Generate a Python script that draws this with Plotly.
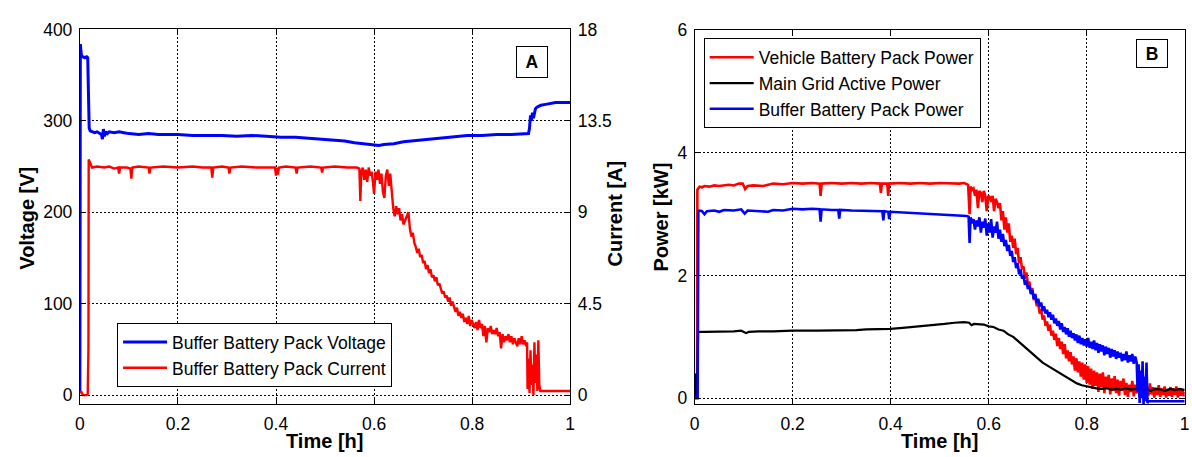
import plotly.graph_objects as go

# ---------------- Panel A data ----------------
t_volt = [0.0, 0.001, 0.003, 0.006, 0.010, 0.014, 0.016, 0.017, 0.019, 0.021, 0.025, 0.030,
          0.035, 0.040, 0.044, 0.046, 0.048, 0.050, 0.053, 0.056, 0.060, 0.070, 0.080, 0.090,
          0.100, 0.120, 0.140, 0.160, 0.180, 0.200, 0.230, 0.260, 0.290, 0.320, 0.350, 0.380,
          0.410, 0.440, 0.470, 0.500, 0.520, 0.540, 0.560, 0.580, 0.600, 0.610, 0.620, 0.640,
          0.660, 0.680, 0.700, 0.730, 0.760, 0.790, 0.820, 0.850, 0.880, 0.900, 0.915, 0.917,
          0.919, 0.921, 0.923, 0.925, 0.927, 0.929, 0.932, 0.936, 0.940, 0.950, 0.960, 0.970,
          0.985, 1.0]
voltage = [2, 384, 372, 370, 369, 370, 369, 318, 292, 289, 288, 287,
           288, 286, 285, 280, 291, 283, 288, 286, 288, 287, 288, 287,
           286, 285, 286, 285, 285, 285, 284, 284, 284, 283, 284, 283,
           282, 282, 281, 280, 279, 278, 276, 275, 274, 273, 274, 275,
           277, 278, 279, 281, 282, 284, 284, 285, 285, 286, 286, 292,
           306, 300, 309, 303, 310, 313, 315, 316, 317, 318, 319, 320,
           320, 320]

t_curr = [0.000, 0.003, 0.006, 0.010, 0.014, 0.016, 0.0165, 0.0175, 0.018, 0.020, 0.025, 0.035,
          0.050, 0.060, 0.070, 0.078, 0.080, 0.082, 0.095, 0.103, 0.105, 0.107, 0.120, 0.140,
          0.142, 0.144, 0.170, 0.200, 0.230, 0.250, 0.268, 0.270, 0.272, 0.290, 0.303, 0.305,
          0.307, 0.330, 0.360, 0.398, 0.400, 0.402, 0.404, 0.406, 0.420, 0.440, 0.442, 0.444,
          0.470, 0.492, 0.494, 0.496, 0.520, 0.545, 0.565, 0.570, 0.572, 0.574, 0.577, 0.580,
          0.583, 0.586, 0.589, 0.592, 0.595, 0.598, 0.600, 0.603, 0.606, 0.609, 0.612, 0.615,
          0.618, 0.621, 0.624, 0.627, 0.630, 0.633, 0.636, 0.639, 0.642, 0.645, 0.648, 0.651,
          0.654, 0.657, 0.660, 0.663, 0.666, 0.670, 0.673, 0.676, 0.679, 0.682, 0.685, 0.688,
          0.691, 0.694, 0.697, 0.700, 0.703, 0.706, 0.709, 0.712, 0.715, 0.718, 0.721, 0.724,
          0.727, 0.730, 0.733, 0.736, 0.739, 0.742, 0.745, 0.748, 0.751, 0.754, 0.757, 0.760,
          0.763, 0.766, 0.769, 0.772, 0.775, 0.778, 0.781, 0.784, 0.787, 0.790, 0.793, 0.796,
          0.799, 0.802, 0.805, 0.808, 0.811, 0.814, 0.817, 0.820, 0.823, 0.826, 0.829, 0.832,
          0.835, 0.838, 0.841, 0.844, 0.847, 0.850, 0.853, 0.856, 0.859, 0.862, 0.865, 0.868,
          0.871, 0.874, 0.877, 0.880, 0.883, 0.886, 0.889, 0.892, 0.895, 0.898, 0.901, 0.904,
          0.907, 0.910, 0.912, 0.913, 0.915, 0.917, 0.919, 0.921, 0.923, 0.925, 0.927, 0.929,
          0.931, 0.933, 0.935, 0.937, 0.939, 0.950, 1.000]
current = [0.15, 0.15, 0.0, 0.0, 0.0, 0.05, 2.2, 2.3, 11.6, 11.5, 11.2, 11.25,
           11.2, 11.25, 11.15, 11.2, 10.9, 11.2, 11.2, 11.15, 10.65, 11.2, 11.25, 11.2,
           10.9, 11.2, 11.25, 11.2, 11.25, 11.2, 11.2, 10.7, 11.2, 11.25, 11.2, 10.9,
           11.2, 11.25, 11.2, 11.2, 10.8, 11.2, 10.85, 11.2, 11.25, 11.2, 10.9, 11.2,
           11.25, 11.2, 10.95, 11.2, 11.25, 11.2, 11.2, 11.15, 9.55, 11.0, 11.2, 10.6,
           11.1, 10.5, 11.2, 10.8, 11.0, 10.4, 9.9, 11.0, 10.6, 11.1, 10.4, 10.9,
           10.0, 9.7, 10.8, 11.1, 10.3, 10.9, 9.8, 9.2, 8.8, 9.3, 8.9, 9.2,
           8.6, 8.9, 8.4, 8.6, 8.8, 9.0, 8.2, 7.8, 8.0, 7.5, 7.3, 7.0,
           7.2, 6.8, 6.9, 6.5, 6.6, 6.2, 6.4, 6.0, 6.2, 5.8, 5.9, 5.6,
           5.8, 5.4, 5.5, 5.3, 5.0, 5.1, 4.8, 4.9, 4.6, 4.8, 4.4, 4.6,
           4.3, 4.1, 4.3, 3.9, 4.1, 3.8, 4.0, 3.6, 3.8, 3.5, 3.9, 3.4,
           3.7, 3.5, 3.3, 3.6, 3.2, 3.7, 3.3, 3.5, 2.9, 3.4, 2.6, 3.3,
           3.1, 3.4, 3.0, 3.2, 3.0, 3.3, 2.9, 3.1, 2.3, 3.0, 2.6, 2.9,
           2.7, 3.0, 2.6, 2.9, 2.5, 2.8, 2.6, 2.4, 2.8, 2.5, 2.9, 2.5,
           2.7, 2.4, 2.6, 0.3, 1.8, 0.1, 2.2, 0.5, 1.5, 0.0, 2.6, 0.6,
           2.0, 0.2, 2.7, 0.5, 0.2, 0.2, 0.2]

# ---------------- Panel B data ----------------
t_veh = [0.000, 0.002, 0.004, 0.005, 0.0055, 0.010, 0.015, 0.020, 0.030, 0.040, 0.050, 0.060,
         0.070, 0.080, 0.090, 0.098, 0.103, 0.108, 0.120, 0.140, 0.150, 0.160, 0.180, 0.200,
         0.220, 0.240, 0.255, 0.257, 0.259, 0.280, 0.300, 0.320, 0.340, 0.360, 0.378, 0.380,
         0.382, 0.393, 0.395, 0.397, 0.420, 0.440, 0.460, 0.480, 0.500, 0.520, 0.540, 0.550,
         0.558, 0.561, 0.563, 0.566, 0.569, 0.572, 0.575, 0.578, 0.581, 0.584, 0.587, 0.590,
         0.593, 0.596, 0.599, 0.602, 0.605, 0.608, 0.611, 0.614, 0.617, 0.620, 0.623, 0.626,
         0.629, 0.632, 0.635, 0.638, 0.641, 0.644, 0.647, 0.650, 0.653, 0.656, 0.659, 0.662,
         0.665, 0.668, 0.671, 0.674, 0.677, 0.680, 0.683, 0.686, 0.689, 0.692, 0.695, 0.698,
         0.701, 0.704, 0.707, 0.710, 0.713, 0.716, 0.719, 0.722, 0.725, 0.728, 0.731, 0.734,
         0.737, 0.740, 0.743, 0.746, 0.749, 0.752, 0.755, 0.758, 0.761, 0.764, 0.767, 0.770,
         0.773, 0.776, 0.779, 0.782, 0.785, 0.788, 0.791, 0.794, 0.797, 0.800, 0.803, 0.806,
         0.809, 0.812, 0.815, 0.818, 0.821, 0.824, 0.827, 0.830, 0.833, 0.836, 0.839, 0.842,
         0.845, 0.848, 0.851, 0.854, 0.857, 0.860, 0.863, 0.866, 0.869, 0.872, 0.875, 0.878,
         0.881, 0.884, 0.887, 0.890, 0.893, 0.896, 0.899, 0.902, 0.905, 0.908, 0.911, 0.914,
         0.917, 0.920, 0.923, 0.926, 0.929, 0.932, 0.935, 0.938, 0.941, 0.944, 0.947, 0.950,
         0.953, 0.956, 0.959, 0.962, 0.965, 0.968, 0.971, 0.974, 0.977, 0.980, 0.983, 0.986,
         0.989, 0.992, 0.995, 0.998, 1.000]
p_vehicle = [0.0, 0.3, 0.0, 0.1, 3.4, 3.45, 3.44, 3.46, 3.45, 3.47, 3.46, 3.47,
             3.48, 3.47, 3.50, 3.50, 3.41, 3.46, 3.47, 3.46, 3.48, 3.50, 3.49, 3.51,
             3.50, 3.51, 3.50, 3.30, 3.50, 3.51, 3.50, 3.51, 3.50, 3.51, 3.50, 3.35,
             3.50, 3.50, 3.30, 3.50, 3.51, 3.50, 3.51, 3.50, 3.51, 3.50, 3.50, 3.51,
             3.48, 3.00, 3.45, 3.40, 3.42, 3.30, 3.40, 3.10, 3.38, 3.35, 3.20, 3.38,
             3.30, 3.05, 3.30, 3.28, 3.20, 3.30, 3.05, 3.25, 3.20, 3.10, 3.18, 2.90,
             3.05, 2.75, 2.95, 2.70, 2.85, 2.55, 2.65, 2.45, 2.60, 2.35, 2.45, 2.20,
             2.30, 2.10, 2.15, 1.95, 2.05, 1.85, 1.90, 1.72, 1.80, 1.60, 1.68, 1.50,
             1.55, 1.38, 1.45, 1.28, 1.35, 1.18, 1.25, 1.10, 1.20, 1.02, 1.10, 0.95,
             1.05, 0.85, 0.98, 0.80, 0.92, 0.72, 0.88, 0.65, 0.78, 0.60, 0.75, 0.55,
             0.68, 0.45, 0.65, 0.42, 0.60, 0.35, 0.58, 0.30, 0.55, 0.25, 0.52, 0.22,
             0.48, 0.15, 0.45, 0.20, 0.42, 0.10, 0.40, 0.18, 0.42, 0.08, 0.35, 0.15,
             0.38, 0.06, 0.32, 0.12, 0.36, 0.08, 0.30, 0.04, 0.28, 0.12, 0.32, 0.05,
             0.25, 0.02, 0.22, 0.10, 0.28, 0.03, 0.22, 0.08, 0.24, 0.02, 0.20, 0.06,
             0.22, 0.01, 0.16, 0.04, 0.24, 0.06, 0.18, 0.01, 0.17, 0.05, 0.21, 0.02,
             0.16, 0.05, 0.19, 0.01, 0.15, 0.04, 0.18, 0.02, 0.16, 0.05, 0.19, 0.01,
             0.13, 0.04, 0.15, 0.03, 0.10]

t_grid = [0.000, 0.001, 0.002, 0.003, 0.004, 0.005, 0.006, 0.007, 0.020, 0.040, 0.060, 0.080,
          0.095, 0.100, 0.105, 0.110, 0.130, 0.160, 0.200, 0.250, 0.300, 0.330, 0.350, 0.400,
          0.430, 0.460, 0.490, 0.510, 0.530, 0.550, 0.560, 0.565, 0.570, 0.580, 0.590, 0.600,
          0.610, 0.620, 0.630, 0.640, 0.650, 0.660, 0.670, 0.680, 0.690, 0.700, 0.710, 0.720,
          0.730, 0.740, 0.750, 0.760, 0.770, 0.780, 0.790, 0.800, 0.810, 0.820, 0.830, 0.840,
          0.850, 0.860, 0.870, 0.880, 0.890, 0.900, 0.910, 0.920, 0.930, 0.940, 0.950, 0.960,
          0.970, 0.980, 0.990, 1.000]
p_grid = [0.0, 0.35, 0.40, 0.30, 0.10, 0.0, 0.5, 1.08, 1.08, 1.08, 1.09, 1.09,
          1.10, 1.08, 1.06, 1.08, 1.09, 1.09, 1.10, 1.10, 1.10, 1.11, 1.12, 1.13,
          1.15, 1.17, 1.19, 1.21, 1.23, 1.24, 1.23, 1.19, 1.21, 1.21, 1.20, 1.17,
          1.16, 1.12, 1.10, 1.04, 1.00, 0.93, 0.86, 0.78, 0.71, 0.64, 0.58, 0.53,
          0.48, 0.43, 0.38, 0.33, 0.28, 0.24, 0.21, 0.19, 0.17, 0.16, 0.15, 0.16,
          0.14, 0.15, 0.14, 0.16, 0.14, 0.15, 0.13, 0.16, 0.12, 0.15, 0.14, 0.12,
          0.15, 0.13, 0.15, 0.13]

t_buf = [0.000, 0.006, 0.007, 0.0075, 0.010, 0.015, 0.020, 0.025, 0.040, 0.050, 0.060, 0.080,
         0.095, 0.102, 0.108, 0.130, 0.150, 0.160, 0.180, 0.200, 0.220, 0.240, 0.255, 0.257,
         0.259, 0.280, 0.293, 0.295, 0.297, 0.320, 0.340, 0.360, 0.383, 0.385, 0.387, 0.395,
         0.397, 0.399, 0.420, 0.440, 0.460, 0.480, 0.500, 0.520, 0.540, 0.555, 0.559, 0.561,
         0.563, 0.566, 0.569, 0.572, 0.575, 0.578, 0.581, 0.584, 0.587, 0.590, 0.593, 0.596,
         0.599, 0.602, 0.605, 0.608, 0.611, 0.614, 0.617, 0.620, 0.623, 0.626, 0.629, 0.632,
         0.635, 0.638, 0.641, 0.644, 0.647, 0.650, 0.653, 0.656, 0.659, 0.662, 0.665, 0.668,
         0.671, 0.674, 0.677, 0.680, 0.683, 0.686, 0.689, 0.692, 0.695, 0.698, 0.701, 0.704,
         0.707, 0.710, 0.713, 0.716, 0.719, 0.722, 0.725, 0.728, 0.731, 0.734, 0.737, 0.740,
         0.743, 0.746, 0.749, 0.752, 0.755, 0.758, 0.761, 0.764, 0.767, 0.770, 0.773, 0.776,
         0.779, 0.782, 0.785, 0.788, 0.791, 0.794, 0.797, 0.800, 0.803, 0.806, 0.809, 0.812,
         0.815, 0.818, 0.821, 0.824, 0.827, 0.830, 0.833, 0.836, 0.839, 0.842, 0.845, 0.848,
         0.851, 0.854, 0.857, 0.860, 0.863, 0.866, 0.869, 0.872, 0.875, 0.878, 0.881, 0.884,
         0.887, 0.890, 0.893, 0.896, 0.899, 0.902, 0.904, 0.906, 0.908, 0.910, 0.912, 0.914,
         0.916, 0.918, 0.920, 0.922, 0.924, 0.926, 0.950, 1.000]
p_buffer = [0.0, 0.0, 2.0, 3.05, 3.06, 3.05, 3.00, 3.05, 3.06, 3.04, 3.07, 3.06,
            3.08, 3.01, 3.06, 3.05, 3.04, 3.07, 3.06, 3.09, 3.08, 3.09, 3.08, 2.88,
            3.08, 3.07, 3.07, 2.93, 3.07, 3.06, 3.06, 3.05, 3.05, 2.90, 3.05, 3.04,
            2.92, 3.04, 3.03, 3.03, 3.02, 3.01, 3.00, 2.99, 2.98, 2.97, 2.96, 2.53,
            2.95, 2.85, 2.92, 2.75, 2.90, 2.80, 2.95, 2.70, 2.88, 2.78, 2.93, 2.65,
            2.85, 2.70, 2.92, 2.62, 2.80, 2.70, 2.88, 2.60, 2.75, 2.55, 2.68, 2.48,
            2.58, 2.40, 2.50, 2.32, 2.40, 2.22, 2.30, 2.12, 2.20, 2.02, 2.10, 1.95,
            2.00, 1.85, 1.92, 1.78, 1.84, 1.70, 1.76, 1.62, 1.70, 1.55, 1.62, 1.50,
            1.56, 1.42, 1.50, 1.38, 1.44, 1.32, 1.40, 1.28, 1.36, 1.22, 1.30, 1.18,
            1.26, 1.12, 1.22, 1.08, 1.16, 1.04, 1.14, 1.00, 1.10, 0.98, 1.06, 0.94,
            1.04, 0.90, 1.02, 0.88, 0.98, 0.86, 0.96, 0.84, 0.98, 0.82, 0.92, 0.80,
            0.94, 0.78, 0.90, 0.74, 0.88, 0.76, 0.86, 0.70, 0.84, 0.72, 0.82, 0.66,
            0.80, 0.68, 0.78, 0.64, 0.76, 0.66, 0.74, 0.60, 0.72, 0.62, 0.76, 0.58,
            0.70, 0.60, 0.72, 0.56, 0.68, 0.58, 0.10, 0.55, -0.08, 0.45, 0.0, 0.60,
            -0.10, 0.35, -0.05, 0.58, -0.08, -0.05, -0.05, -0.05]

# ---------------- Axes ticks ----------------
time_ticks = [0, 0.2, 0.4, 0.6, 0.8, 1]
time_labels = ["0", "0.2", "0.4", "0.6", "0.8", "1"]
volt_ticks = [0, 100, 200, 300, 400]
curr_ticks = [0, 4.5, 9, 13.5, 18]
curr_labels = ["0", "4.5", "9", "13.5", "18"]
power_ticks = [0, 2, 4, 6]

FONT = "Liberation Sans, Arial, sans-serif"
BLUE = "#0000FF"
RED = "#FF0000"
BLACK = "#000000"

W, H = 1192, 457
yb0, yb1 = 1 - 406.7 / H, 1 - 20 / H
xa0, xa1 = 75.5 / W, 570 / W
xb0, xb1 = 695.5 / W, 1189.7 / W

fig = go.Figure()
fig.add_trace(go.Scatter(x=t_volt, y=voltage, mode="lines", name="Buffer Battery Pack Voltage",
                         line=dict(color=BLUE, width=3), xaxis="x", yaxis="y", legend="legend"))
fig.add_trace(go.Scatter(x=t_curr, y=current, mode="lines", name="Buffer Battery Pack Current",
                         line=dict(color=RED, width=2.4), xaxis="x", yaxis="y2", legend="legend"))
fig.add_trace(go.Scatter(x=t_veh, y=p_vehicle, mode="lines", name="Vehicle Battery Pack Power",
                         line=dict(color=RED, width=2.6), xaxis="x2", yaxis="y3", legend="legend2"))
fig.add_trace(go.Scatter(x=t_grid, y=p_grid, mode="lines", name="Main Grid Active Power",
                         line=dict(color=BLACK, width=2.2), xaxis="x2", yaxis="y3", legend="legend2"))
fig.add_trace(go.Scatter(x=t_buf, y=p_buffer, mode="lines", name="Buffer Battery Pack Power",
                         line=dict(color=BLUE, width=2.6), xaxis="x2", yaxis="y3", legend="legend2"))

tickfont = dict(family=FONT, size=17.5, color="black")
common = dict(showline=True, linecolor="black", linewidth=1, ticks="inside", ticklen=5,
              tickcolor="black", tickfont=tickfont, zeroline=False,
              showgrid=True, gridcolor="black", gridwidth=1, griddash="2px,2px")

title_font = dict(family=FONT, size=20, color="black")


def title_ann(text, xpx, ypx, angle=0):
    return dict(text="<b>" + text + "</b>", x=xpx / W, y=1 - ypx / H, xref="paper", yref="paper",
                showarrow=False, font=title_font, textangle=angle,
                xanchor="center", yanchor="middle")


def box_ann(text, xpx, ypx, h):
    return dict(text="<b>" + text + "</b>", x=xpx / W, y=1 - ypx / H, xref="paper", yref="paper",
                showarrow=False, font=dict(family=FONT, size=17.5, color="black"),
                bordercolor="black", borderwidth=1, borderpad=4, bgcolor="white",
                width=22, height=h, xanchor="center", yanchor="middle")


fig.update_layout(
    width=W, height=H, margin=dict(l=0, r=0, t=0, b=0),
    paper_bgcolor="white", plot_bgcolor="white",
    xaxis=dict(domain=[xa0, xa1], range=[0, 1], tickvals=time_ticks, ticktext=time_labels,
               mirror="ticks", anchor="y", ticklabelstandoff=4, **common),
    yaxis=dict(domain=[yb0, yb1], range=[-10, 400], tickvals=volt_ticks, mirror=True,
               anchor="x", ticklabelstandoff=3, **common),
    yaxis2=dict(range=[-0.45, 18], tickvals=curr_ticks, ticktext=curr_labels, overlaying="y",
                side="right", anchor="x", showline=True, linecolor="black", linewidth=1,
                ticks="inside", ticklen=5, tickcolor="black", tickfont=tickfont,
                showgrid=False, zeroline=False, ticklabelstandoff=3),
    xaxis2=dict(domain=[xb0, xb1], range=[0, 1], tickvals=time_ticks, ticktext=time_labels,
                mirror="ticks", anchor="y3", ticklabelstandoff=4, **common),
    yaxis3=dict(domain=[yb0, 1 - 21 / H], range=[-0.1, 6], tickvals=power_ticks, mirror="ticks",
                anchor="x2", ticklabelstandoff=3, **common),
    legend=dict(x=113 / W, y=1 - 323 / H, xanchor="left", yanchor="top",
                bgcolor="white", bordercolor="black", borderwidth=1,
                font=dict(family=FONT, size=17.5, color="black"), itemwidth=44,
                tracegroupgap=0),
    legend2=dict(x=704.6 / W, y=1 - 29.3 / H, xanchor="left", yanchor="top",
                 bgcolor="white", bordercolor="black", borderwidth=1,
                 font=dict(family=FONT, size=17.5, color="black"), itemwidth=44,
                 tracegroupgap=0),
    showlegend=True,
    annotations=[
        title_ann("Time [h]", 322, 445),
        title_ann("Time [h]", 942, 445),
        title_ann("Voltage [V]", 22.5, 215, -90),
        title_ann("Current [A]", 615, 210, -90),
        title_ann("Power [kW]", 661.7, 214, -90),
        box_ann("A", 531, 53.5, 22),
        box_ann("B", 1157, 44.5, 19),
    ],
)

fig.write_html("out.html", config={"displayModeBar": False},
               post_script="document.body.style.margin='0';document.body.style.overflow='hidden';")
